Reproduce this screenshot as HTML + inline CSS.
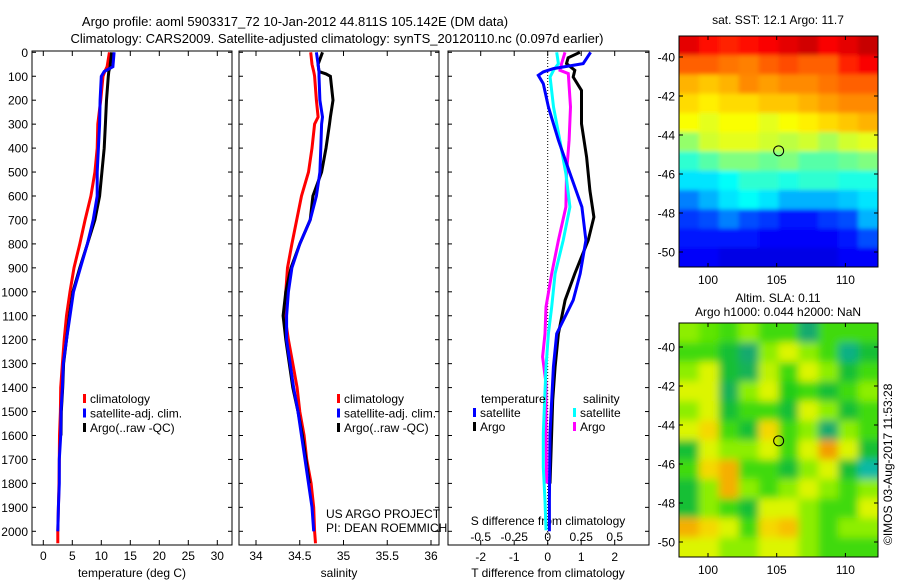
<!DOCTYPE html>
<html><head><meta charset="utf-8">
<style>
html,body{margin:0;padding:0;background:#fff;}
svg{display:block;font-family:"Liberation Sans",sans-serif;}
</style></head>
<body>
<svg id="fig" width="900" height="580" viewBox="0 0 900 580" xmlns="http://www.w3.org/2000/svg">
<rect width="900" height="580" fill="#fff"/>
<text x="295" y="26" font-size="13" text-anchor="middle">Argo profile: aoml 5903317_72 10-Jan-2012 44.811S 105.142E (DM data)</text>
<text x="337" y="43" font-size="13" text-anchor="middle">Climatology: CARS2009. Satellite-adjusted climatology: synTS_20120110.nc (0.097d earlier)</text>
<g id="g"></g>
<text x="326" y="518" font-size="12">US ARGO PROJECT</text>
<text x="326" y="532" font-size="12">PI: DEAN ROEMMICH</text>
<text transform="translate(892,545) rotate(-90)" font-size="12">©IMOS 03-Aug-2017 11:53:28</text>
</svg>
<script>
// ---- depth grids & profile data ----
const tDepth=[0,60,80,100,200,300,400,500,600,700,800,900,1000,1100,1200,1300,1400,1500,1600,1700,1800,1900,2000,2050];
const tClim=[11.4,11.0,10.6,10.3,9.9,9.4,9.3,8.9,8.2,7.2,6.3,5.3,4.6,4.0,3.6,3.3,3.0,2.95,2.8,2.75,2.7,2.6,2.5,2.5];
const tSat=[12.2,12.0,10.5,10.0,9.8,9.7,9.5,9.3,9.3,8.6,7.6,6.4,5.2,4.6,4.0,3.45,3.3,3.05,3.0,2.76,2.76,2.6,2.5,null];
const tArgo=[11.8,11.5,11.3,11.2,10.9,10.7,10.5,10.1,9.7,8.9,7.6,6.3,5.1,4.5,4.0,3.5,3.35,3.1,3.05,null,null,null,null,null];
const sDepth=[0,50,80,90,100,200,270,300,400,500,600,700,800,900,1000,1100,1200,1300,1400,1500,1600,1700,1800,1900,2000,2050];
const sClim=[34.625,34.64,34.66,34.665,34.67,34.69,34.71,34.67,34.64,34.6,34.52,34.465,34.41,34.36,34.34,34.33,34.37,34.42,34.47,34.5,34.55,34.58,34.63,34.66,34.67,34.68];
const sSat=[34.69,34.71,34.72,34.72,34.72,34.73,34.76,34.75,34.74,34.73,34.69,34.62,34.5,34.41,34.37,34.35,34.35,34.39,34.43,34.48,34.52,34.56,34.6,34.64,34.66,null];
const sArgo=[34.76,34.71,34.72,34.8,34.85,34.88,34.85,34.84,34.8,34.75,34.65,34.62,34.5,34.40,34.34,34.31,34.34,34.38,34.42,34.48,34.53,34.57,34.61,null,null,null];
const dTSatDepth=[0,47,68,82,96,131,228,367,507,646,785,924,1035,1175,1314,1592,1871,2000];
const dTSat=[1.28,1.06,0.17,-0.13,-0.28,-0.13,0.02,0.32,0.67,1.02,1.14,0.97,0.76,0.27,0.17,0.07,0.05,0.05];
const dTArgoDepth=[0,23,47,75,103,159,298,437,577,688,785,924,1035,1175,1314,1453,1662,1801];
const dTArgo=[0.96,0.61,0.56,0.81,0.76,1.01,1.01,1.16,1.26,1.38,1.21,0.81,0.52,0.32,0.22,0.15,0.1,0.07];
const dSSatDepth=[0,47,75,103,228,367,507,646,785,924,1063,1175,1314,1592,1732,1871,1996];
const dSSat=[0.067,0.08,0.043,0.018,0.043,0.09,0.136,0.166,0.116,0.055,0.03,0.005,-0.013,-0.033,-0.033,-0.02,-0.013];
const dSArgoDepth=[0,47,75,89,228,367,507,646,785,924,1063,1175,1272,1383,1592,1801];
const dSArgo=[0.129,0.104,0.092,0.154,0.17,0.16,0.14,0.136,0.08,0.03,-0.013,-0.02,-0.038,-0.013,-0.013,-0.008];
// ticks
const depthTicks=[0,100,200,300,400,500,600,700,800,900,1000,1100,1200,1300,1400,1500,1600,1700,1800,1900,2000];
const tempTicks=[0,5,10,15,20,25,30];
const salTicks=[34,34.5,35,35.5,36];
const tDiffTicks=[-2,-1,0,1,2];
const sDiffTicks=[-0.5,-0.25,0,0.25,0.5];
const sDiffLabels=["-0.5","-0.25","0","0.25","0.5"];
// maps (jet colormap fraction, rows from north to south)
const sstGrid=[
[0.9,0.86,0.84,0.86,0.88,0.9,0.92,0.88,0.9,0.93],
[0.78,0.78,0.76,0.75,0.78,0.8,0.78,0.78,0.84,0.88],
[0.7,0.68,0.7,0.74,0.72,0.74,0.74,0.76,0.78,0.78],
[0.66,0.64,0.66,0.66,0.68,0.68,0.7,0.72,0.74,0.74],
[0.62,0.6,0.62,0.62,0.6,0.62,0.64,0.66,0.68,0.7],
[0.52,0.58,0.6,0.6,0.58,0.56,0.58,0.54,0.58,0.6],
[0.42,0.46,0.5,0.5,0.48,0.5,0.46,0.46,0.48,0.5],
[0.35,0.35,0.38,0.42,0.42,0.4,0.42,0.42,0.4,0.4],
[0.25,0.3,0.35,0.38,0.35,0.3,0.3,0.3,0.32,0.35],
[0.18,0.2,0.25,0.2,0.18,0.15,0.15,0.18,0.2,0.3],
[0.15,0.15,0.15,0.15,0.12,0.12,0.12,0.12,0.15,0.2],
[0.12,0.12,0.1,0.1,0.1,0.1,0.1,0.1,0.12,0.12]];
const slaGrid=[
[0.55,0.52,0.5,0.55,0.5,0.5,0.4,0.5,0.5,0.5],
[0.5,0.5,0.45,0.4,0.55,0.6,0.55,0.5,0.38,0.45],
[0.55,0.6,0.45,0.42,0.58,0.5,0.6,0.55,0.45,0.5],
[0.6,0.6,0.42,0.55,0.6,0.48,0.5,0.45,0.5,0.55],
[0.55,0.6,0.45,0.5,0.5,0.45,0.6,0.55,0.45,0.5],
[0.6,0.65,0.5,0.45,0.65,0.5,0.55,0.4,0.55,0.5],
[0.45,0.6,0.55,0.55,0.6,0.5,0.6,0.72,0.6,0.45],
[0.5,0.65,0.7,0.5,0.5,0.45,0.55,0.6,0.45,0.35],
[0.45,0.55,0.7,0.55,0.5,0.55,0.6,0.55,0.5,0.55],
[0.45,0.55,0.5,0.45,0.6,0.6,0.55,0.5,0.5,0.6],
[0.7,0.65,0.6,0.5,0.65,0.68,0.55,0.5,0.55,0.55],
[0.6,0.6,0.55,0.55,0.6,0.6,0.55,0.5,0.5,0.5]];
const latTicks=[-40,-42,-44,-46,-48,-50];
const lonTicks=[100,105,110];
const floatLon=[105.142];
const floatLat=[-44.811];

const NS="http://www.w3.org/2000/svg";
const G=document.getElementById('g');
function el(tag,attrs,parent){const e=document.createElementNS(NS,tag);for(const k in attrs)e.setAttribute(k,attrs[k]);(parent||G).appendChild(e);return e;}
function txt(s,x,y,anchor,size,name){const t=el('text',{x:x,y:y,'text-anchor':anchor||'start','font-size':size||12});t.textContent=s;


return t;}

const Y0=51,Y1=545;
const yD=d=>52.3+d*0.2395;
const xT=v=>43.3+v*5.8;
const xS=v=>256+(v-34)*87.5;
const xTD=v=>547.7+v*33.5;
const xSD=v=>547.7+v*134;

function frame(x0,x1,name){const r=el('rect',{x:x0,y:Y0,width:x1-x0,height:Y1-Y0,fill:'none',stroke:'#000','stroke-width':1});

}
function line(xf,depths,vals,color,name){let pts=[];for(let i=0;i<depths.length;i++){if(vals[i]==null)continue;pts.push(xf(vals[i]).toFixed(1)+','+yD(depths[i]).toFixed(1));}
const p=el('polyline',{points:pts.join(' '),fill:'none',stroke:color,'stroke-width':3,'stroke-linejoin':'miter'});

}
function xticks(xf,ticks,labels,x0,x1,ly,name){ticks.forEach((v,i)=>{const x=xf(v);el('line',{x1:x,x2:x,y1:Y1,y2:Y1-5,stroke:'#000'});el('line',{x1:x,x2:x,y1:Y0,y2:Y0+5,stroke:'#000'});
if(ly)txt(labels?labels[i]:String(v),x,ly,'middle',12,name);});}

// panels
frame(32,232,'temperature-panel');frame(239,439,'salinity-panel');frame(448,649,'difference-panel');
depthTicks.forEach(d=>{const y=yD(d);[[32,1],[232,-1],[239,1],[439,-1],[448,1],[649,-1]].forEach(([x,s])=>el('line',{x1:x,x2:x+4*s,y1:y,y2:y,stroke:'#000'}));
txt(String(d),28,y+4.5,'end',12,'depth-tick-label');});
xticks(xT,tempTicks,null,32,232,560,'temperature-tick-label');
xticks(xS,salTicks,['34','34.5','35','35.5','36'],239,439,560,'salinity-tick-label');
xticks(xTD,tDiffTicks,null,448,649,561,'t-diff-tick-label');
sDiffTicks.forEach((v,i)=>txt(sDiffLabels[i],xSD(v),541,'middle',12,'s-diff-tick-label'));
txt('temperature (deg C)',132,577,'middle',12,'x-axis-title-temperature');
txt('salinity',339,577,'middle',12,'x-axis-title-salinity');
txt('T difference from climatology',548,577,'middle',12,'x-axis-title-t-diff');
txt('S difference from climatology',548,525,'middle',12,'x-axis-title-s-diff');
el('line',{x1:xTD(0),x2:xTD(0),y1:Y0,y2:Y1,stroke:'#000','stroke-dasharray':'1,2'});

line(xT,tDepth,tClim,'#f00','temp-climatology');
line(xT,tDepth,tArgo,'#000','temp-argo');
line(xT,tDepth,tSat,'#00f','temp-satellite');
line(xS,sDepth,sClim,'#f00','sal-climatology');
line(xS,sDepth,sArgo,'#000','sal-argo');
line(xS,sDepth,sSat,'#00f','sal-satellite');
line(xSD,dSArgoDepth,dSArgo,'#f0f','s-diff-argo');
line(xSD,dSSatDepth,dSSat,'#0ff','s-diff-satellite');
line(xTD,dTArgoDepth,dTArgo,'#000','t-diff-argo');
line(xTD,dTSatDepth,dTSat,'#00f','t-diff-satellite');

function legend(x,y,color,label,name){const r=el('rect',{x:x,y:y-9,width:3,height:9,fill:color});


txt(label,x+7,y,'start',12,name);}
[[83,'#f00','climatology'],[83,'#00f','satellite-adj. clim.'],[83,'#000','Argo(..raw -QC)']].forEach((l,i)=>legend(l[0],403+i*14.5,l[1],l[2],'legend-entry'));
[[337,'#f00','climatology'],[337,'#00f','satellite-adj. clim.'],[337,'#000','Argo(..raw -QC)']].forEach((l,i)=>legend(l[0],403+i*14.5,l[1],l[2],'legend-entry'));
txt('temperature',481,403,'start',12,'legend-heading-temperature');
txt('salinity',583,403,'start',12,'legend-heading-salinity');
legend(473,417,'#00f','satellite','legend-entry');legend(473,431,'#000','Argo','legend-entry');
legend(573,417,'#0ff','satellite','legend-entry');legend(573,431,'#f0f','Argo','legend-entry');

// colormaps
function jet(v){const r=Math.min(Math.max(Math.min(4*v-1.5,-4*v+4.5),0),1),g=Math.min(Math.max(Math.min(4*v-0.5,-4*v+3.5),0),1),b=Math.min(Math.max(Math.min(4*v+0.5,-4*v+2.5),0),1);
return `rgb(${Math.round(r*255)},${Math.round(g*255)},${Math.round(b*255)})`;}
const slaStops=[[0.3,[0,200,220]],[0.4,[20,170,110]],[0.47,[20,200,30]],[0.53,[110,235,0]],[0.6,[220,245,0]],[0.66,[250,210,0]],[0.74,[240,140,0]]];
function slaColor(v){if(v<=slaStops[0][0])return `rgb(${slaStops[0][1]})`;for(let i=1;i<slaStops.length;i++){if(v<=slaStops[i][0]){const a=slaStops[i-1],b=slaStops[i],t=(v-a[0])/(b[0]-a[0]);return `rgb(${a[1].map((c,k)=>Math.round(c+(b[1][k]-c)*t)).join(',')})`;}}return `rgb(${slaStops[slaStops.length-1][1]})`;}
const MX0=679,MX1=878;
const lonX=l=>708+(l-100)*13.74;
function map(grid,y0,y1,latY,blur,name,id,cmap){
const cw=(MX1-MX0)/grid[0].length,ch=(y1-y0)/grid.length;
const defs=el('defs',{});
const cp=el('clipPath',{id:'c'+id},defs);el('rect',{x:MX0,y:y0,width:MX1-MX0,height:y1-y0},cp);
if(blur){const f=el('filter',{id:'f'+id,x:'-10%',y:'-10%',width:'120%',height:'120%'},defs);el('feGaussianBlur',{stdDeviation:blur},f);}
const outer=el('g',{'clip-path':`url(#c${id})`});
const g=el('g',blur?{filter:`url(#f${id})`}:{},outer);


grid.forEach((row,r)=>row.forEach((v,c)=>{el('rect',{x:MX0+c*cw-(c==0?cw:0),y:y0+r*ch-(r==0?ch:0),width:cw+0.6+(c==0||c==row.length-1?cw:0),height:ch+0.6+(r==0||r==grid.length-1?ch:0),fill:cmap(v)},g);}));
const fr=el('rect',{x:MX0,y:y0,width:MX1-MX0,height:y1-y0,fill:'none',stroke:'#000'});


latTicks.forEach(l=>{const y=latY(l);el('line',{x1:MX0,x2:MX0+4,y1:y,y2:y,stroke:'#000'});el('line',{x1:MX1,x2:MX1-4,y1:y,y2:y,stroke:'#000'});txt(String(l),675,y+4.5,'end',12,'lat-tick-label');});
lonTicks.forEach(l=>{const x=lonX(l);el('line',{x1:x,x2:x,y1:y0,y2:y0+4,stroke:'#000'});el('line',{x1:x,x2:x,y1:y1,y2:y1-4,stroke:'#000'});txt(String(l),x,y1+17,'middle',12,'lon-tick-label');});
const c=el('circle',{cx:lonX(floatLon[0]),cy:latY(floatLat[0]),r:5,fill:'none',stroke:'#000','stroke-width':1});


}
map(sstGrid,36,267,l=>57+(-40-l)*19.5,2,'sst-map','1',jet);
map(slaGrid,323,557,l=>347+(-40-l)*19.5,4,'sla-map','2',slaColor);
txt('sat. SST: 12.1 Argo: 11.7',778,24,'middle',12,'sst-map-title');
txt('Altim. SLA: 0.11',778,302,'middle',12,'sla-map-title');
txt('Argo h1000: 0.044 h2000: NaN',778,316,'middle',12,'sla-map-subtitle');
</script>
</body></html>
